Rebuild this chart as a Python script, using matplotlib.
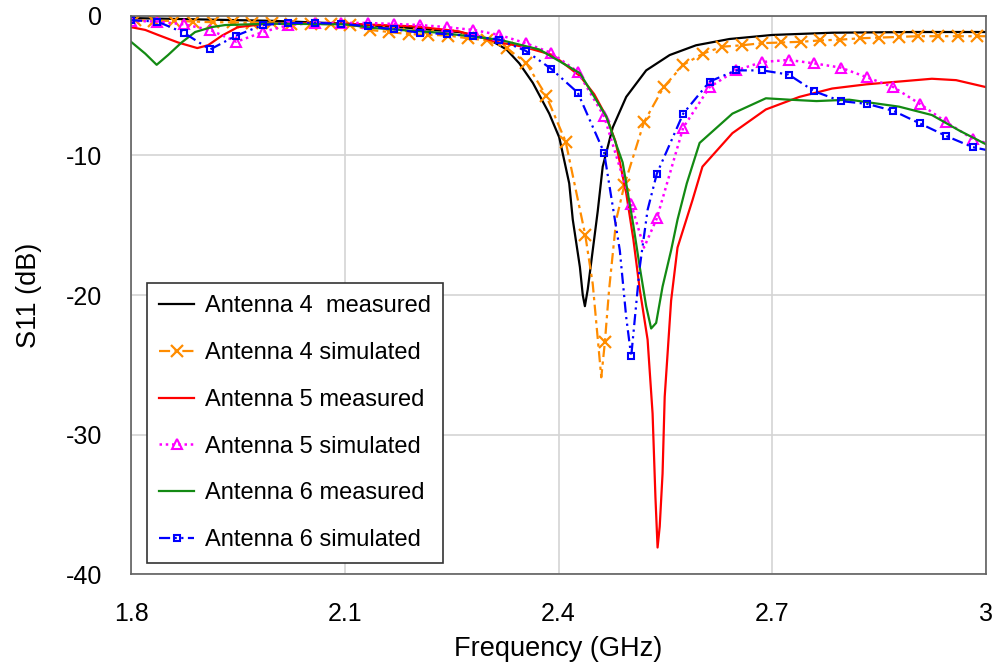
"""
S11 of antennas 4-6, measured vs simulated
"""

import numpy as np
import matplotlib
matplotlib.use("Agg")
import matplotlib.pyplot as plt

plt.rcParams['font.family'] = ['Liberation Sans', 'DejaVu Sans']
plt.rcParams['axes.unicode_minus'] = False

# --- data (GHz, dB) ---
a4_meas_f = [1.8, 1.9, 2.0, 2.1, 2.19, 2.26, 2.3, 2.327, 2.345, 2.364, 2.387, 2.401,
             2.415, 2.42, 2.43, 2.434, 2.437, 2.441, 2.448, 2.455, 2.462, 2.476,
             2.495, 2.523, 2.556, 2.593, 2.64, 2.7, 2.784, 2.9, 3.0]
a4_meas_db = [-0.15, -0.25, -0.35, -0.55, -0.85, -1.15, -1.6, -2.4, -3.4, -4.8, -7.0, -8.7,
              -12.0, -14.6, -18.0, -20.0, -20.8, -19.6, -16.8, -14.0, -10.8, -8.0,
              -5.8, -3.9, -2.8, -2.1, -1.65, -1.36, -1.2, -1.15, -1.15]

# simulated antenna 4: marker points, then extra line points near the dip
a4_sim_mf = [1.805, 1.8325, 1.86, 1.8875, 1.915, 1.9425, 1.97, 1.9975, 2.025, 2.0525,
             2.08, 2.1075, 2.135, 2.1625, 2.19, 2.2175, 2.245, 2.2725, 2.30, 2.3275,
             2.355, 2.3825, 2.41, 2.4375, 2.465, 2.4925, 2.52, 2.5475, 2.575, 2.6025,
             2.63, 2.6575, 2.685, 2.7125, 2.74, 2.7675, 2.795, 2.8225, 2.85, 2.8775,
             2.905, 2.9325, 2.96, 2.9875]
a4_sim_mdb = [-0.3, -0.35, -0.35, -0.4, -0.45, -0.45, -0.5, -0.5, -0.55, -0.55,
              -0.6, -0.65, -1.0, -1.15, -1.3, -1.35, -1.4, -1.6, -1.75, -2.3,
              -3.4, -5.7, -9.0, -15.7, -23.4, -12.1, -7.6, -5.1, -3.5, -2.7,
              -2.2, -2.1, -1.95, -1.9, -1.85, -1.75, -1.7, -1.6, -1.55, -1.5,
              -1.45, -1.45, -1.45, -1.45]
a4_sim_xf = [2.448, 2.46, 2.471, 2.481, 3.0]
a4_sim_xdb = [-19.2, -25.9, -19.6, -14.6, -1.45]

a5_meas_f = [1.8, 1.82, 1.838, 1.866, 1.893, 1.908, 1.928, 1.95, 1.988, 2.05, 2.1, 2.2,
             2.26, 2.317, 2.35, 2.392, 2.43, 2.45, 2.467, 2.48, 2.495, 2.505, 2.514,
             2.525, 2.532, 2.536, 2.539, 2.542, 2.546, 2.549, 2.558, 2.567, 2.588,
             2.602, 2.644, 2.691, 2.738, 2.784, 2.832, 2.878, 2.924, 2.958, 3.0]
a5_meas_db = [-0.8, -1.0, -1.36, -1.9, -2.3, -2.1, -1.4, -0.8, -0.57, -0.5, -0.55, -0.75,
              -1.1, -1.9, -2.2, -2.8, -4.3, -5.6, -7.2, -9.0, -12.7, -16.0, -19.6,
              -23.2, -28.5, -34.5, -38.1, -36.6, -32.8, -27.3, -20.4, -16.6, -13.2,
              -10.8, -8.4, -6.7, -5.8, -5.2, -4.9, -4.7, -4.5, -4.6, -5.1]

sim_mf = [1.8, 1.837, 1.874, 1.911, 1.948, 1.985, 2.021, 2.058, 2.095, 2.132, 2.169,
          2.206, 2.243, 2.28, 2.317, 2.354, 2.39, 2.427, 2.464, 2.502, 2.538, 2.575,
          2.612, 2.649, 2.686, 2.723, 2.759, 2.796, 2.833, 2.87, 2.907, 2.944, 2.981]
a5_sim_mdb = [-0.35, -0.4, -0.6, -1.0, -1.85, -1.15, -0.65, -0.5, -0.5, -0.5, -0.57,
              -0.65, -0.8, -1.0, -1.36, -1.95, -2.65, -4.0, -7.2, -13.5, -14.5, -8.0,
              -5.1, -3.9, -3.3, -3.15, -3.4, -3.7, -4.4, -5.1, -6.3, -7.6, -8.8]
a5_sim_xf = [2.52, 3.0]
a5_sim_xdb = [-16.6, -9.1]

a6_meas_f = [1.8, 1.82, 1.836, 1.852, 1.871, 1.89, 1.913, 1.932, 2.0, 2.1, 2.14, 2.233,
             2.317, 2.373, 2.43, 2.467, 2.49, 2.505, 2.514, 2.523, 2.53, 2.537, 2.546,
             2.558, 2.567, 2.58, 2.598, 2.644, 2.691, 2.724, 2.762, 2.808, 2.878,
             2.924, 2.962, 3.0]
a6_meas_db = [-1.85, -2.7, -3.5, -2.8, -1.9, -1.15, -0.8, -0.65, -0.55, -0.6, -0.86, -1.2,
              -1.7, -2.4, -4.1, -7.2, -10.5, -15.0, -18.0, -20.8, -22.4, -22.0, -19.4,
              -16.8, -14.6, -12.0, -9.1, -7.0, -5.9, -6.0, -6.1, -6.0, -6.5,
              -7.1, -8.2, -9.2]

a6_sim_mdb = [-0.3, -0.4, -1.2, -2.4, -1.4, -0.65, -0.5, -0.5, -0.55, -0.75, -0.95,
              -1.2, -1.3, -1.45, -1.7, -2.5, -3.8, -5.5, -9.8, -24.4, -11.3, -7.0,
              -4.7, -3.9, -3.9, -4.2, -5.4, -6.1, -6.3, -6.8, -7.7, -8.6, -9.4]
a6_sim_xf = [2.486, 2.495, 2.514, 2.525, 3.0]
a6_sim_xdb = [-16.8, -21.6, -18.0, -13.9, -9.6]

x_ticks = [1.8, 2.1, 2.4, 2.7, 3.0]
x_labels = ["1.8", "2.1", "2.4", "2.7", "3"]
y_ticks = [0, -10, -20, -30, -40]


def merge(mf, mdb, xf, xdb):
    # join marker points and extra line points; return order + marker indices
    f = np.array(list(mf) + list(xf))
    d = np.array(list(mdb) + list(xdb))
    is_marker = np.array([True] * len(mf) + [False] * len(xf))
    order = np.argsort(f, kind="stable")
    return f[order], d[order], list(np.where(is_marker[order])[0])


def main():
    fig = plt.figure(figsize=(9.94, 6.63), dpi=100)
    ax = fig.add_axes([0.1318, 0.1342, 0.8602, 0.8417])

    ax.plot(a4_meas_f, a4_meas_db, color="black", lw=1.6, label="Antenna 4  measured")

    f, d, mk = merge(a4_sim_mf, a4_sim_mdb, a4_sim_xf, a4_sim_xdb)
    ax.plot(f, d, color="#FF8C00", lw=1.6, ls=(0, (5, 2, 1.5, 2)), marker="x",
            ms=9, mew=1.6, markevery=mk, label="Antenna 4 simulated")

    ax.plot(a5_meas_f, a5_meas_db, color="#FF0000", lw=1.6, label="Antenna 5 measured")

    f, d, mk = merge(sim_mf, a5_sim_mdb, a5_sim_xf, a5_sim_xdb)
    ax.plot(f, d, color="#FF00FF", lw=1.8, ls=(0, (1, 1.5)), marker="^", ms=7,
            mfc="none", mew=1.5, markevery=mk, label="Antenna 5 simulated")

    ax.plot(a6_meas_f, a6_meas_db, color="#138A13", lw=1.6, label="Antenna 6 measured")

    f, d, mk = merge(sim_mf, a6_sim_mdb, a6_sim_xf, a6_sim_xdb)
    ax.plot(f, d, color="#0000FF", lw=1.6, ls=(0, (5, 2, 1, 2, 1, 2)), marker="s",
            ms=5, mfc="none", mew=1.5, markevery=mk, label="Antenna 6 simulated")

    ax.set_xlim(1.8, 3.0)
    ax.set_ylim(-40, 0)
    ax.set_xticks(x_ticks)
    ax.set_xticklabels(x_labels)
    ax.set_yticks(y_ticks)
    ax.tick_params(length=0, labelsize=18)
    ax.tick_params(axis="x", pad=20)
    ax.tick_params(axis="y", pad=21)
    ax.grid(True, color="#d4d4d4", lw=1.2)
    ax.set_axisbelow(True)
    for s in ax.spines.values():
        s.set_color("#606060")
        s.set_linewidth(1.2)

    ax.set_xlabel("Frequency (GHz)", fontsize=19.5, labelpad=7)
    ax.set_ylabel("S11 (dB)", fontsize=19.5, labelpad=17)

    leg = ax.legend(loc="lower left", bbox_to_anchor=(0.0187, 0.0197), fontsize=17,
                    frameon=True, fancybox=False, edgecolor="#333333", framealpha=1,
                    handlelength=1.5, labelspacing=1.05, borderpad=0.5,
                    handletextpad=0.45, borderaxespad=0)
    leg.get_frame().set_linewidth(1.2)

    fig.savefig("out.png", dpi=100)


if __name__ == "__main__":
    main()
